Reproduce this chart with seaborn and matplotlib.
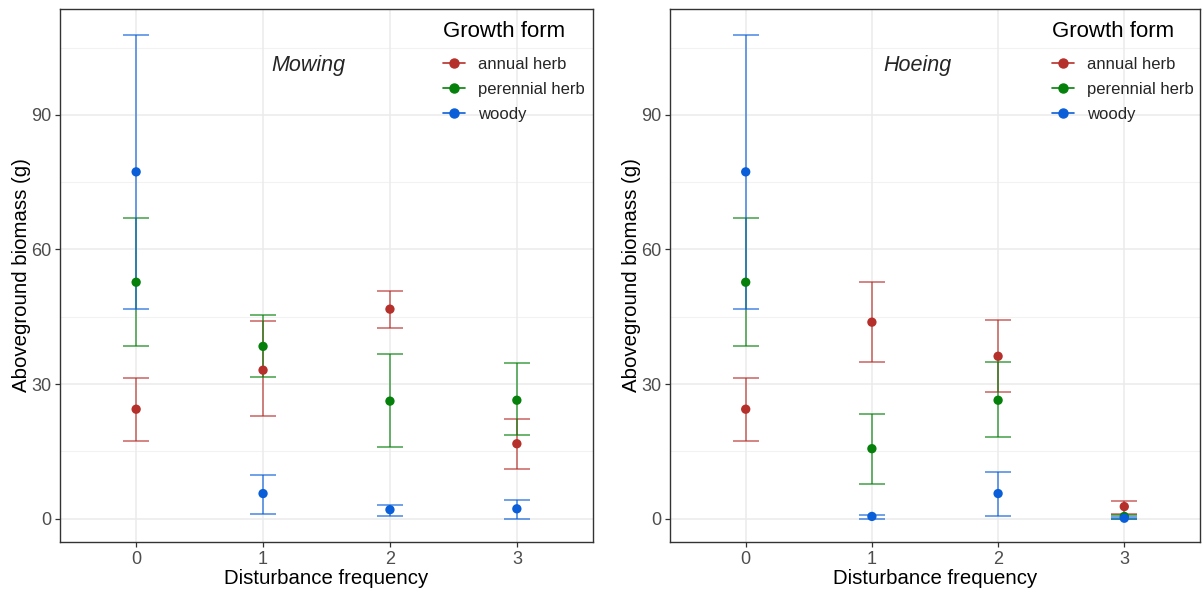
import numpy as np
import pandas as pd
import matplotlib
matplotlib.use("Agg")
import matplotlib.pyplot as plt
from matplotlib.lines import Line2D
import seaborn as sns

# ---------------- data ----------------
freq = [0, 1, 2, 3]
forms = ["annual herb", "perennial herb", "woody"]

# Mowing
mow_annual_mean = [24.4, 33.1, 46.7, 16.7]
mow_annual_low = [17.3, 22.9, 42.4, 11.1]
mow_annual_high = [31.3, 44.0, 50.7, 22.2]
mow_perennial_mean = [52.7, 38.4, 26.2, 26.4]
mow_perennial_low = [38.4, 31.6, 16.0, 18.7]
mow_perennial_high = [67.1, 45.3, 36.7, 34.7]
mow_woody_mean = [77.3, 5.6, 2.0, 2.2]
mow_woody_low = [46.7, 1.1, 0.7, 0.0]
mow_woody_high = [107.8, 9.8, 3.1, 4.2]

# Hoeing
hoe_annual_mean = [24.4, 43.8, 36.2, 2.7]
hoe_annual_low = [17.3, 34.9, 28.2, 1.1]
hoe_annual_high = [31.3, 52.7, 44.2, 4.0]
hoe_perennial_mean = [52.7, 15.6, 26.4, 0.5]
hoe_perennial_low = [38.4, 7.8, 18.2, 0.0]
hoe_perennial_high = [67.1, 23.3, 34.9, 0.9]
hoe_woody_mean = [77.3, 0.5, 5.6, 0.1]
hoe_woody_low = [46.7, 0.0, 0.7, 0.0]
hoe_woody_high = [107.8, 0.9, 10.4, 0.3]

yticks = [0, 30, 60, 90]
xtick_labels = ["0", "1", "2", "3"]
panel_titles = ["Mowing", "Hoeing"]

colors = {"annual herb": "#B5302A", "perennial herb": "#05800A", "woody": "#0A5FD8"}


def make_df(a_m, a_l, a_h, p_m, p_l, p_h, w_m, w_l, w_h):
    rows = []
    for form, m, lo, hi in [("annual herb", a_m, a_l, a_h),
                            ("perennial herb", p_m, p_l, p_h),
                            ("woody", w_m, w_l, w_h)]:
        for f, mm, ll, hh in zip(freq, m, lo, hi):
            rows.append({"freq": f, "form": form, "mean": mm, "low": ll, "high": hh})
    return pd.DataFrame(rows)


df_mow = make_df(mow_annual_mean, mow_annual_low, mow_annual_high,
                 mow_perennial_mean, mow_perennial_low, mow_perennial_high,
                 mow_woody_mean, mow_woody_low, mow_woody_high)
df_hoe = make_df(hoe_annual_mean, hoe_annual_low, hoe_annual_high,
                 hoe_perennial_mean, hoe_perennial_low, hoe_perennial_high,
                 hoe_woody_mean, hoe_woody_low, hoe_woody_high)

# ---------------- style ----------------
sns.set_theme(style="white")
plt.rcParams["font.family"] = ["Liberation Sans", "DejaVu Sans"]

fig = plt.figure(figsize=(12.03, 5.95), dpi=100)
ax1 = fig.add_axes([60 / 1203, 53 / 595, 533 / 1203, 533 / 595])
ax2 = fig.add_axes([670 / 1203, 53 / 595, 530 / 1203, 533 / 595])

for ax, df, title, legx in [(ax1, df_mow, panel_titles[0], 0.7186),
                            (ax2, df_hoe, panel_titles[1], 0.7215)]:
    # grid
    for y in [15, 45, 75, 105]:
        ax.axhline(y, color="#F2F2F2", lw=0.8, zorder=0)
    for y in yticks:
        ax.axhline(y, color="#EBEBEB", lw=1.1, zorder=0)
    for x in freq:
        ax.axvline(x, color="#EBEBEB", lw=1.1, zorder=0)

    for form in forms:
        sub = df[df["form"] == form]
        ax.errorbar(sub["freq"], sub["mean"],
                    yerr=[sub["mean"] - sub["low"], sub["high"] - sub["mean"]],
                    fmt="none", ecolor=colors[form], alpha=0.75,
                    elinewidth=1.1, capsize=9.5, capthick=1.1, zorder=2)
    sns.scatterplot(data=df, x="freq", y="mean", hue="form", hue_order=forms,
                    palette=colors, s=45, edgecolor="none", legend=False,
                    ax=ax, zorder=3)

    ax.set_xlim(-0.6, 3.6)
    ax.set_ylim(-5.2, 113.6)
    ax.set_xticks(freq)
    ax.set_xticklabels(xtick_labels)
    ax.set_yticks(yticks)
    ax.tick_params(axis="both", labelsize=13, labelcolor="#4D4D4D", color="#333333",
                   length=3.5, width=0.9, direction="out", bottom=True, left=True, pad=3)
    for sp in ax.spines.values():
        sp.set_color("#333333")
        sp.set_linewidth(1.0)
    ax.set_xlabel("Disturbance frequency", fontsize=14.7, color="black", labelpad=1)
    ax.set_ylabel("Aboveground biomass (g)", fontsize=14.7, color="black", labelpad=0)

    ax.text(1.36, 101, title, fontsize=15.5, style="italic", ha="center", va="center")

    # legend title and entries
    ax.text(legx, 0.9587, "Growth form", transform=ax.transAxes, ha="left",
            va="center", fontsize=16, color="black")
    handles = [Line2D([0], [0], color=colors[f], marker="o", markersize=6.5,
                      lw=1.2, label=f) for f in forms]
    ax.legend(handles=handles, loc="center left", bbox_to_anchor=(legx, 0.8499),
              frameon=False, fontsize=12, handlelength=1.32, handletextpad=0.78,
              labelspacing=0.6, borderaxespad=0, borderpad=0)

fig.savefig("out.png", dpi=100)
